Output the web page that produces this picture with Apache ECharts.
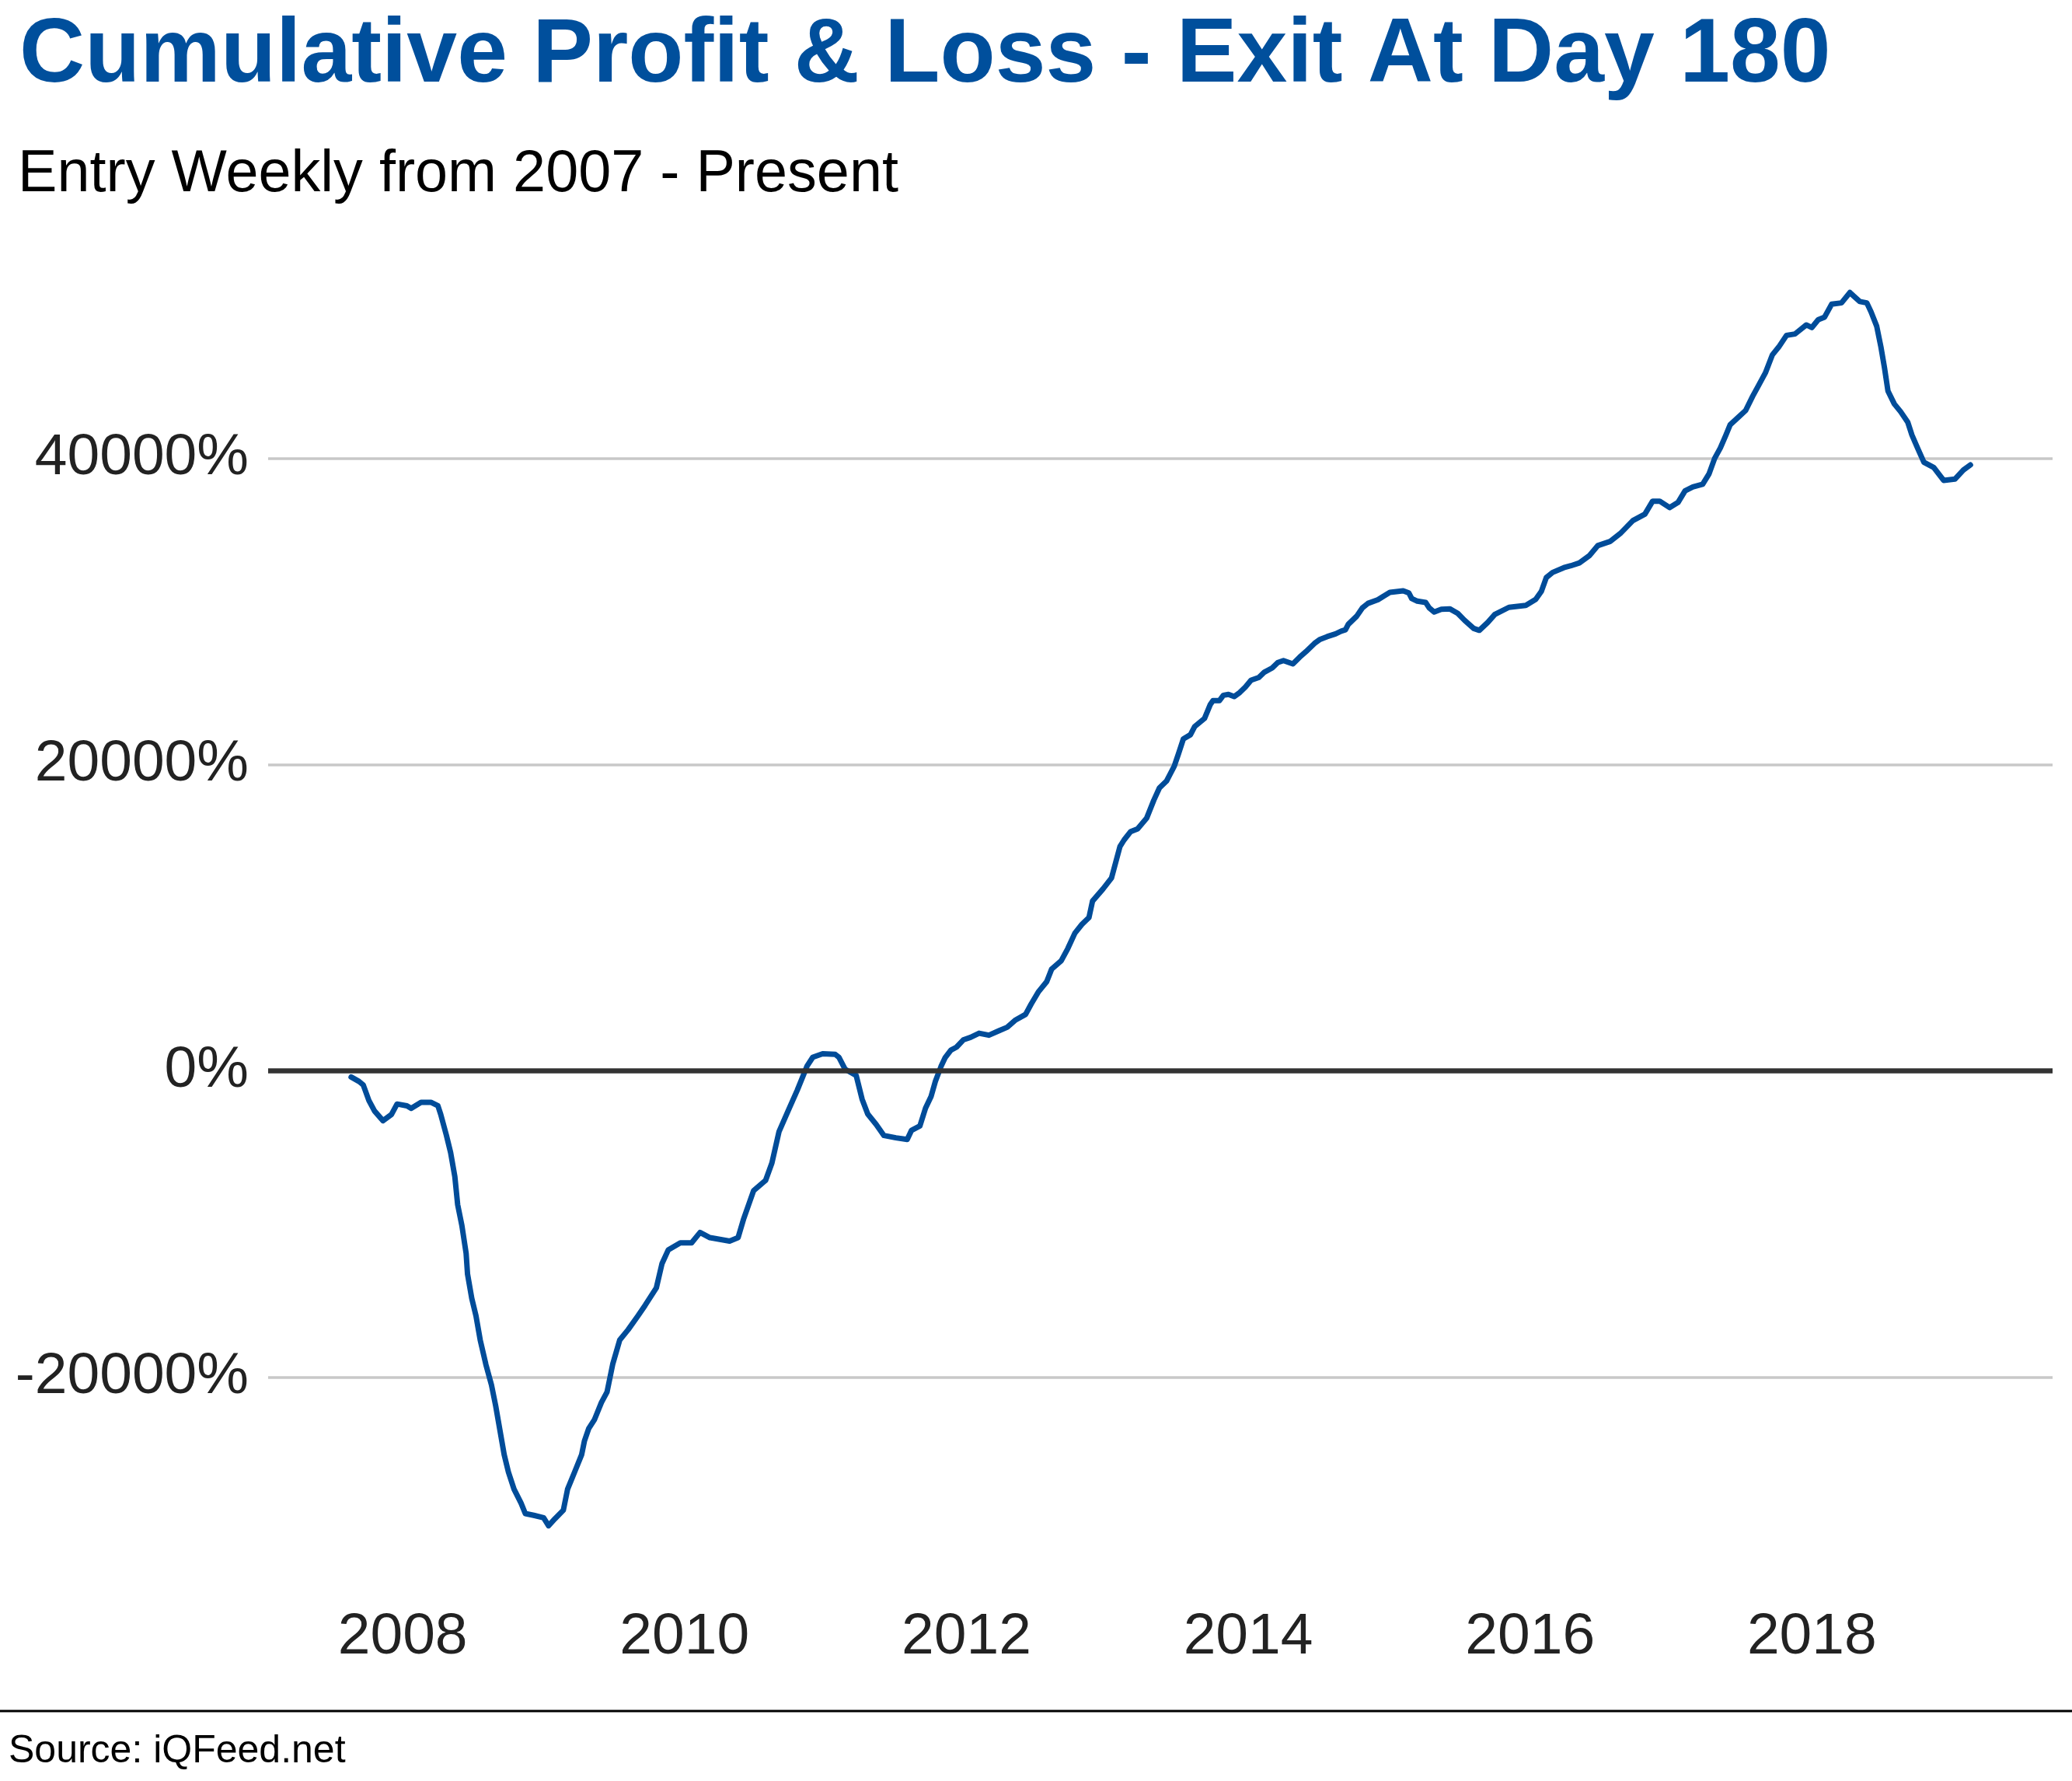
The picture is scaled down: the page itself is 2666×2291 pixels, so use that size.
<!DOCTYPE html>
<html>
<head>
<meta charset="utf-8">
<script src="https://cdn.jsdelivr.net/npm/echarts@6/dist/echarts.min.js"></script>
<style>
  html, body { margin: 0; padding: 0; background: #ffffff; }
  #chart { width: 2666px; height: 2291px; }
</style>
</head>
<body>
<div id="chart"></div>
<script>
// ---- Data ----
// Entry date as decimal year
const dates = [
  2007.634, 2007.69, 2007.72, 2007.76, 2007.80, 2007.86, 2007.92, 2007.96, 2008.03, 2008.06,
  2008.13, 2008.20, 2008.25, 2008.27, 2008.31, 2008.34, 2008.37, 2008.39, 2008.42, 2008.45,
  2008.46, 2008.49, 2008.52, 2008.55, 2008.59, 2008.63, 2008.66, 2008.69, 2008.72, 2008.75,
  2008.79, 2008.84, 2008.87, 2008.93, 2009.00, 2009.035, 2009.08, 2009.14, 2009.17, 2009.22,
  2009.27, 2009.29, 2009.32, 2009.36, 2009.41, 2009.45, 2009.49, 2009.54, 2009.60, 2009.67,
  2009.72, 2009.80, 2009.84, 2009.885, 2009.97, 2010.05, 2010.11, 2010.18, 2010.25, 2010.32,
  2010.38, 2010.42, 2010.49, 2010.575, 2010.62, 2010.67, 2010.74, 2010.80, 2010.87, 2010.91,
  2010.98, 2011.07, 2011.095, 2011.14, 2011.218, 2011.26, 2011.30, 2011.36, 2011.415, 2011.50,
  2011.58, 2011.61, 2011.67, 2011.71, 2011.75, 2011.78, 2011.82, 2011.85, 2011.89, 2011.93,
  2011.98, 2012.03, 2012.09, 2012.16, 2012.23, 2012.29, 2012.345, 2012.42, 2012.46, 2012.51,
  2012.57, 2012.605, 2012.673, 2012.72, 2012.77, 2012.82, 2012.87, 2012.895, 2012.97, 2013.03,
  2013.09, 2013.12, 2013.166, 2013.215, 2013.28, 2013.33, 2013.37, 2013.42, 2013.475, 2013.505,
  2013.54, 2013.59, 2013.62, 2013.69, 2013.73, 2013.75, 2013.795, 2013.824, 2013.86, 2013.90,
  2013.94, 2013.98, 2014.02, 2014.075, 2014.115, 2014.17, 2014.21, 2014.25, 2014.317, 2014.366,
  2014.41, 2014.47, 2014.51, 2014.56, 2014.62, 2014.66, 2014.69, 2014.71, 2014.77, 2014.81,
  2014.85, 2014.92, 2014.96, 2015.005, 2015.10, 2015.14, 2015.16, 2015.20, 2015.26, 2015.285,
  2015.32, 2015.37, 2015.43, 2015.487, 2015.535, 2015.60, 2015.64, 2015.70, 2015.75, 2015.85,
  2015.97, 2016.04, 2016.08, 2016.115, 2016.16, 2016.24, 2016.29, 2016.35, 2016.42, 2016.48,
  2016.57, 2016.64, 2016.73, 2016.815, 2016.87, 2016.92, 2016.99, 2017.05, 2017.10, 2017.155,
  2017.225, 2017.27, 2017.31, 2017.35, 2017.39, 2017.42, 2017.48, 2017.53, 2017.58, 2017.62,
  2017.67, 2017.72, 2017.765, 2017.82, 2017.88, 2017.96, 2018.00, 2018.045, 2018.09, 2018.14,
  2018.21, 2018.27, 2018.30, 2018.34, 2018.39, 2018.42, 2018.46, 2018.49, 2018.515, 2018.54,
  2018.585, 2018.63, 2018.68, 2018.71, 2018.75, 2018.795, 2018.865, 2018.935, 2019.015, 2019.075,
  2019.125
];
// Cumulative profit & loss, in percent
const pnl = [
  -391, -685, -914, -1929, -2614, -3249, -2843, -2157, -2274, -2436,
  -2045, -2045, -2274, -2843, -4198, -5330, -6903, -8731, -10091, -11903,
  -13264, -14847, -15984, -17563, -19157, -20507, -21878, -23461, -25045, -26182,
  -27309, -28223, -28898, -29014, -29172, -29695, -29238, -28675, -27309, -26182,
  -25045, -24142, -23350, -22781, -21649, -20964, -19157, -17563, -16888, -15984,
  -15304, -14162, -12583, -11675, -11218, -11218, -10543, -10883, -10995, -11111,
  -10883, -9639, -7817, -7147, -6010, -3974, -2497, -1254, 335, 898,
  1127, 1081, 898, 107, -289, -1842, -2812, -3492, -4213, -4365,
  -4467, -3883, -3594, -2426, -1650, -675, 294, 878, 1360, 1558,
  2041, 2198, 2467, 2335, 2624, 2858, 3304, 3695, 4375, 5152,
  5832, 6650, 7200, 8000, 9000, 9578, 10025, 11091, 11893, 12604,
  14655, 15096, 15634, 15812, 16522, 17680, 18482, 18924, 19903, 20705,
  21685, 21954, 22487, 23020, 23913, 24177, 24177, 24532, 24588, 24446,
  24710, 25070, 25512, 25690, 26045, 26314, 26669, 26796, 26583, 27025,
  27385, 27918, 28182, 28360, 28543, 28720, 28807, 29162, 29695, 30233,
  30532, 30766, 30999, 31248, 31355, 31213, 30853, 30675, 30588, 30233,
  29964, 30141, 30177, 29877, 29431, 28898, 28771, 29289, 29806, 30273,
  30400, 30792, 31309, 32212, 32552, 32862, 32989, 33172, 33639, 34300,
  34583, 35091, 35938, 36359, 37207, 37207, 36786, 37121, 37882, 38136,
  38309, 38984, 40000, 40674, 41522, 42197, 42704, 43130, 44060, 44735,
  45582, 46765, 47273, 48034, 48120, 48714, 48542, 49050, 49222, 50065,
  50152, 50827, 50573, 50238, 50152, 49558, 48628, 47273, 45924, 44400,
  43552, 43045, 42370, 41522, 40674, 39745, 39405, 38562, 38644, 39238,
  39576
];
// Tick labels
const xTickYears = [2008, 2010, 2012, 2014, 2016, 2018];
const yTickValues = [-20000, 0, 20000, 40000];
const gridValues = [-20000, 20000, 40000];
const zeroValue = 0;

// ---- Chart ----
const FONT = '"Liberation Sans", Arial, Helvetica, sans-serif';
const chart = echarts.init(document.getElementById('chart'), null, { renderer: 'canvas' });

const seriesData = dates.map((d, i) => [d, pnl[i]]);

chart.setOption({
  animation: false,
  backgroundColor: '#ffffff',
  title: [
    {
      text: 'Cumulative Profit & Loss - Exit At Day 180',
      left: 25, top: 14, padding: 0,
      textStyle: { fontFamily: FONT, fontSize: 116.5, fontWeight: 'bold', color: '#004f9c', lineHeight: 117 }
    },
    {
      text: 'Entry Weekly from 2007 - Present',
      left: 23, top: 187, padding: 0,
      textStyle: { fontFamily: FONT, fontSize: 75.6, fontWeight: 'normal', color: '#000000', lineHeight: 76 }
    },
    {
      text: 'Source: iQFeed.net',
      left: 11, top: 2228, padding: 0,
      textStyle: { fontFamily: FONT, fontSize: 50, fontWeight: 'normal', color: '#000000', lineHeight: 50 }
    }
  ],
  graphic: [
    {
      type: 'line',
      shape: { x1: 0, y1: 2201, x2: 2666, y2: 2201 },
      style: { stroke: '#000000', lineWidth: 3 },
      silent: true
    }
  ],
  grid: { left: 345, right: 25, top: 297, height: 1745, containLabel: false },
  xAxis: {
    type: 'value',
    min: 2007.045,
    max: 2019.708,
    axisLine: { show: false },
    axisTick: { show: false },
    splitLine: { show: false },
    axisLabel: {
      customValues: xTickYears,
      formatter: v => String(Math.round(v)),
      fontFamily: FONT, fontSize: 75, lineHeight: 75, color: '#222222', margin: 27
    }
  },
  yAxis: {
    type: 'value',
    min: -33721,
    max: 54853,
    axisLine: { show: false },
    axisTick: { show: false },
    splitLine: { show: false },
    axisLabel: {
      customValues: yTickValues,
      formatter: v => v + '%',
      fontFamily: FONT, fontSize: 75, lineHeight: 75, color: '#222222', margin: 25
    }
  },
  series: [
    {
      type: 'line',
      data: seriesData,
      showSymbol: false,
      symbol: 'none',
      smooth: false,
      z: 2,
      lineStyle: { color: '#004c99', width: 7, join: 'round', cap: 'round' },
      markLine: {
        silent: true, symbol: 'none', z: 1, animation: false,
        label: { show: false },
        lineStyle: { color: '#c8c8c8', width: 3.6, type: 'solid' },
        data: gridValues.map(v => ({ yAxis: v }))
      }
    },
    {
      type: 'line',
      data: [],
      showSymbol: false,
      z: 3,
      markLine: {
        silent: true, symbol: 'none', z: 6, animation: false,
        label: { show: false },
        lineStyle: { color: '#333333', width: 6.5, type: 'solid' },
        data: [{ yAxis: zeroValue }]
      }
    }
  ]
});
</script>
</body>
</html>
